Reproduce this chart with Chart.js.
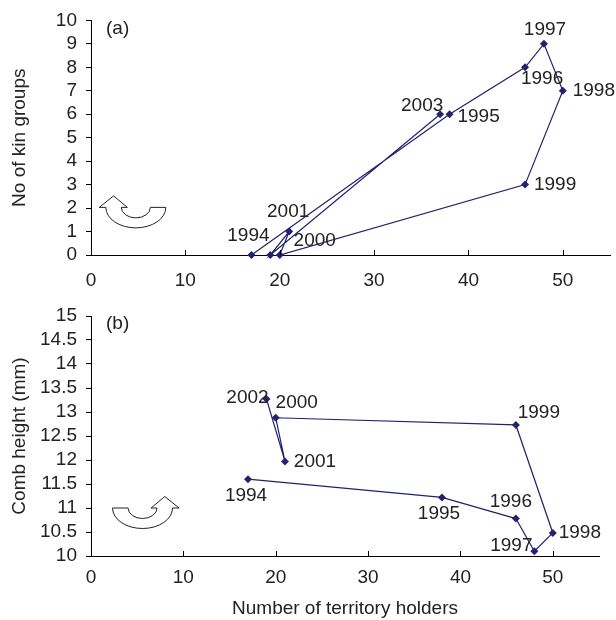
<!DOCTYPE html>
<html>
<head>
<meta charset="utf-8">
<script src="https://cdn.jsdelivr.net/npm/chart.js@4.4.1/dist/chart.umd.min.js"></script>
<style>
  body { margin: 0; background: #fff; }
  canvas { display: block; }
</style>
</head>
<body>
<canvas id="kinChart" width="616" height="290"></canvas>
<canvas id="combChart" width="616" height="330"></canvas>
<script>
// panel (a): kin groups vs territory holders
const yearsA = ["1994", "1995", "1996", "1997", "1998", "1999", "2000", "2001", "2002", "2003"];
const holdersA = [17, 38, 46, 48, 50, 46, 20, 21, 19, 37];
const kinGroups = [0, 6, 8, 9, 7, 3, 0, 1, 0, 6];

// panel (b): comb height vs territory holders
const yearsB = ["1994", "1995", "1996", "1997", "1998", "1999", "2000", "2001", "2002"];
const holdersB = [17, 38, 46, 48, 50, 46, 20, 21, 19];
const combHeight = [11.6, 11.22, 10.78, 10.1, 10.48, 12.73, 12.88, 11.97, 13.27];

// where each year label sits relative to its marker (px), null = no label
const labelOffsetA = [[-3, -19], [29, 3], [17, 11.5], [1, -14], [31, 0], [30, 0], [35, -14], [-1, -20], null, [-18, -8]];
const labelOffsetB = [[-2, 16.5], [-3, 16], [-5, -17], [-23, -5], [27, 0], [23, -12], [21, -15], [30, 0], [-19, -1.5]];

const FONT = "'Liberation Sans', Arial, sans-serif";
const INK = "#222";
const NAVY = "#22226e";

Chart.defaults.font.family = FONT;
Chart.defaults.font.size = 19;
Chart.defaults.color = INK;

const pointLabels = {
  id: "pointLabels",
  afterDatasetsDraw(chart, args, opts) {
    const ctx = chart.ctx;
    const meta = chart.getDatasetMeta(0);
    ctx.save();
    ctx.font = "19px " + FONT;
    ctx.fillStyle = INK;
    ctx.textAlign = "center";
    ctx.textBaseline = "middle";
    meta.data.forEach((pt, i) => {
      const off = opts.offsets[i];
      if (!off) return;
      ctx.fillText(opts.years[i], pt.x + off[0], pt.y + off[1]);
    });
    ctx.restore();
  }
};

// inward tick marks on the x axis, panel tag and the turning arrow
const decorations = {
  id: "decorations",
  afterDraw(chart, args, opts) {
    const ctx = chart.ctx;
    const xs = chart.scales.x, ys = chart.scales.y;
    const area = chart.chartArea;
    ctx.save();
    ctx.strokeStyle = "#000";
    ctx.lineWidth = 1;
    xs.ticks.forEach(t => {
      const px = Math.round(xs.getPixelForValue(t.value)) + 0.5;
      ctx.beginPath();
      ctx.moveTo(px, area.bottom);
      ctx.lineTo(px, area.bottom - 5);
      ctx.stroke();
    });

    ctx.font = "19px " + FONT;
    ctx.fillStyle = INK;
    ctx.textAlign = "left";
    ctx.textBaseline = "middle";
    ctx.fillText(opts.tag, area.left + 15, area.top + 8);

    const cx = xs.getPixelForValue(opts.arrow.x);
    const cy = ys.getPixelForValue(opts.arrow.y);
    ctx.translate(cx, cy);
    ctx.scale(opts.arrow.dir, 1);
    const rxO = 30, ryO = 20.5, rxI = 14.5, ryI = 10.5;
    ctx.beginPath();
    ctx.moveTo(-rxI, 0);
    ctx.lineTo(-rxO, 0);
    ctx.ellipse(0, 0, rxO, ryO, 0, Math.PI, 0, true);
    ctx.lineTo(rxO + 6.5, 0);
    ctx.lineTo((rxO + rxI) / 2, -11.5);
    ctx.lineTo(rxI - 6, 0);
    ctx.lineTo(rxI, 0);
    ctx.ellipse(0, 0, rxI, ryI, 0, 0, Math.PI, false);
    ctx.closePath();
    ctx.fillStyle = "#fff";
    ctx.fill();
    ctx.strokeStyle = INK;
    ctx.stroke();
    ctx.restore();
  }
};

function makeChart(id, opt) {
  const points = opt.xs.map((v, i) => ({ x: v, y: opt.ys[i] }));
  return new Chart(document.getElementById(id), {
    type: "scatter",
    data: {
      datasets: [{
        data: points,
        showLine: true,
        borderColor: NAVY,
        borderWidth: 1.2,
        backgroundColor: NAVY,
        pointStyle: "rectRot",
        pointRadius: 4,
        pointBorderWidth: 0,
        clip: false
      }]
    },
    options: {
      responsive: false,
      animation: false,
      events: [],
      layout: { padding: opt.padding },
      plugins: {
        legend: { display: false },
        tooltip: { enabled: false },
        pointLabels: { years: opt.years, offsets: opt.offsets },
        decorations: { tag: opt.tag, arrow: opt.arrow }
      },
      scales: {
        x: {
          type: "linear",
          min: 0,
          max: 55,
          afterBuildTicks: s => { s.ticks = s.ticks.filter(t => t.value <= 50); },
          afterFit: s => { s.height = opt.xHeight; },
          ticks: { stepSize: 10, padding: opt.xPad, color: INK, autoSkip: false, maxRotation: 0 },
          grid: { display: false },
          border: { color: "#000", width: 1 },
          title: {
            display: !!opt.xTitle,
            text: opt.xTitle || "",
            color: INK,
            padding: { top: 0, bottom: 0 }
          }
        },
        y: {
          min: opt.yMin,
          max: opt.yMax,
          afterFit: s => { s.width = 91; },
          ticks: {
            stepSize: opt.yStep,
            padding: 9,
            color: INK,
            autoSkip: false,
            callback: v => String(v)
          },
          grid: { drawOnChartArea: false, tickLength: 5, color: "#000" },
          border: { color: "#000", width: 1 },
          title: {
            display: true,
            text: opt.yTitle,
            color: INK,
            padding: { top: 8, bottom: 0 }
          }
        }
      }
    },
    plugins: [pointLabels, decorations]
  });
}

makeChart("kinChart", {
  xs: holdersA, ys: kinGroups, years: yearsA, offsets: labelOffsetA,
  tag: "(a)", arrow: { x: 4.75, y: 2.03, dir: -1 },
  padding: { top: 16, right: 6, bottom: 0, left: 0 },
  xHeight: 35, xPad: 6,
  yMin: 0, yMax: 10, yStep: 1, yTitle: "No of kin groups"
});

makeChart("combChart", {
  xs: holdersB, ys: combHeight, years: yearsB, offsets: labelOffsetB,
  tag: "(b)", arrow: { x: 5.58, y: 11.0, dir: 1 },
  padding: { top: 26, right: 17, bottom: 0, left: 0 },
  xHeight: 64, xPad: 2, xTitle: "Number of territory holders",
  yMin: 10, yMax: 15, yStep: 0.5, yTitle: "Comb height (mm)"
});
</script>
</body>
</html>
